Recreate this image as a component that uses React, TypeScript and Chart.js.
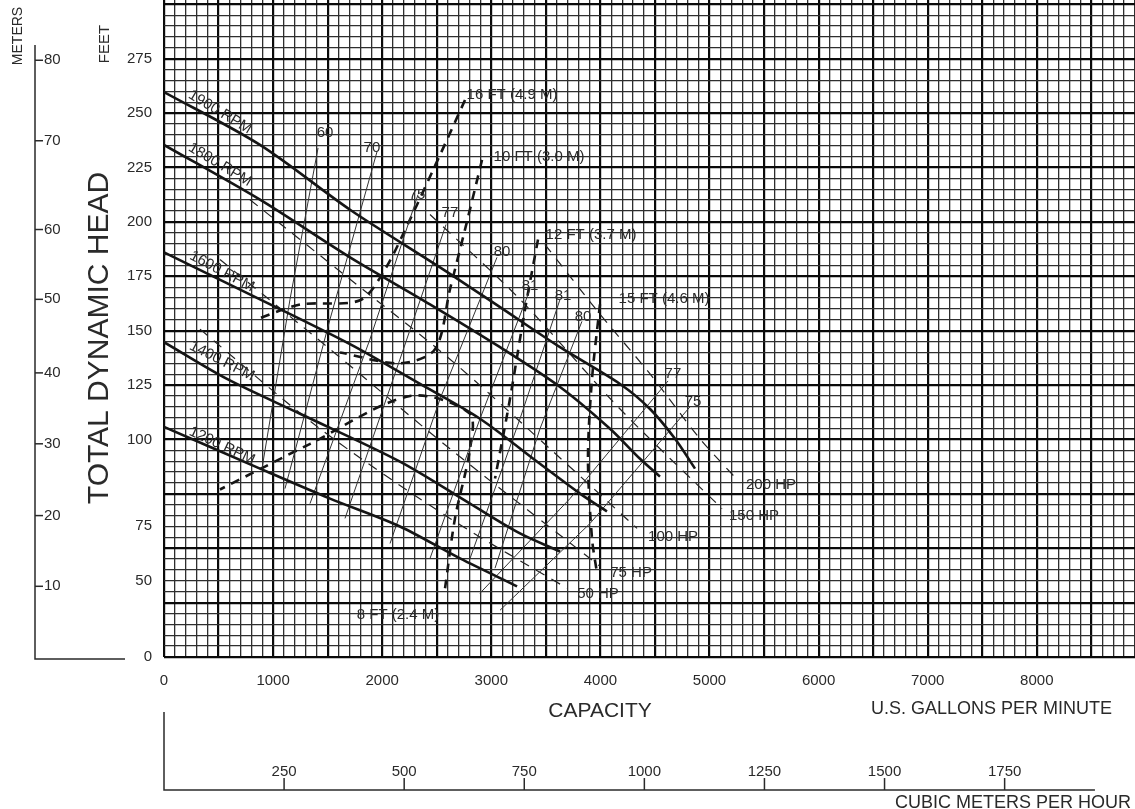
import React, { useEffect, useRef } from "react";
import { Chart, registerables } from "chart.js";
Chart.register(...registerables);

const GPM_MAX = 8900;
const FEET_MAX = 302;
const GPM_PER_M3H = 4.4029;

const GPM_LABELS = [0, 1000, 2000, 3000, 4000, 5000, 6000, 7000, 8000];
const FEET_LABEL_VALUES = [0, 34.8, 60.5, 100, 125, 150, 175, 200, 225, 250, 275];
const FEET_LABEL_TEXT = ["0", "50", "75", "100", "125", "150", "175", "200", "225", "250", "275"];
const METER_LABEL_TEXT = ["10", "20", "30", "40", "50", "60", "70", "80"];
const METER_LABEL_FEET = [32.5, 65.0, 98.0, 130.6, 164.4, 196.5, 237.3, 274.3];
const M3H_LABELS = [250, 500, 750, 1000, 1250, 1500, 1750];

type P = [number, number];

// Head curves (gpm, feet)
const rpm1900: P[] = [[0, 259.7], [880, 235.4], [1705, 205.6], [2530, 179.1], [3080, 160.8], [3630, 142.4], [4180, 125.5], [4455, 114], [4684, 100.3], [4867, 86.6]];
const rpm1800: P[] = [[0, 235.4], [880, 210.2], [1705, 183.7], [2438, 162.1], [3080, 142.4], [3630, 124.1], [4088, 104.9], [4363, 91.1], [4546, 82.9]];
const rpm1600: P[] = [[0, 186], [880, 164.4], [1705, 143.8], [2347, 125.5], [2896, 109.5], [3446, 88.8], [3813, 75.1], [4060, 66.9]];
const rpm1400: P[] = [[0, 144.7], [577, 127.8], [1247, 111.8], [2163, 89.8], [2805, 70.5], [3263, 56.8], [3630, 48.5]];
const rpm1200: P[] = [[0, 105.8], [880, 86.6], [1522, 72.8], [2163, 60], [2713, 45.3], [3236, 32.5]];

// Efficiency lines
const eff60: P[] = [[1412, 234], [1155, 164.4], [898, 86.6]];
const eff70: P[] = [[1952, 232.2], [1522, 155.3], [1109, 77.4]];
const eff75: P[] = [[2328, 212.5], [1888, 146.1], [1338, 70.5]];
const eff77: P[] = [[2585, 198.8], [2163, 136.9], [1659, 63.7]];
const eff80: P[] = [[3052, 183.7], [2530, 118.6], [2072, 52.2]];
const eff81: P[] = [[3355, 169], [2896, 109.5], [2438, 45.3]];
const eff81r: P[] = [[3630, 164.4], [3263, 109.5], [2805, 45.3]];
const eff80r: P[] = [[3831, 154.3], [3446, 104.9], [3034, 40.8]];
const eff77r: P[] = [[4620, 126.9], [3721, 72.8], [2896, 29.3]];
const eff75r: P[] = [[4821, 115], [3905, 61.4], [3080, 21.5]];

// NPSH required curves
const npsh16: P[] = [[2759, 256], [2530, 230.8], [2255, 201.1], [2026, 178.2], [1797, 164], [1247, 162], [834, 155]];
const npsh10: P[] = [[2915, 228.5], [2759, 196.5], [2621, 169], [2484, 141.5], [2163, 135], [1613, 140]];
const npsh12: P[] = [[3428, 191.9], [3309, 159.8], [3171, 118.6], [3034, 82]];
const npsh15: P[] = [[3996, 162.1], [3923, 127.8], [3886, 91.1], [3923, 54.5], [3969, 38.5]];
const npsh8: P[] = [[2576, 31.6], [2667, 63.7], [2805, 95.7], [2800, 112], [2255, 120], [1340, 98], [513, 77]];

// Horsepower lines
const hp200: P[] = [[3492, 189.6], [3996, 157.6], [4455, 130.1], [4913, 100.3], [5261, 81.1]];
const hp150: P[] = [[2438, 203.4], [3263, 164.4], [4180, 114], [5115, 68.2]];
const hp100: P[] = [[788, 210.2], [1705, 173.6], [2621, 136.9], [3538, 95.7], [4336, 59.1]];
const hp75: P[] = [[513, 182.7], [1522, 141.5], [2621, 95.7], [3996, 41.7]];
const hp50: P[] = [[330, 150.7], [1430, 104.9], [2621, 63.7], [3694, 31.6]];

type L = { t: string; gx: number; fy: number; a: number };
const CURVE_LABELS: L[] = [
  { t: "1900 RPM", gx: 513, fy: 250.5, a: 31 },
  { t: "1800 RPM", gx: 513, fy: 226.3, a: 31 },
  { t: "1600 RPM", gx: 532, fy: 177.2, a: 28 },
  { t: "1400 RPM", gx: 532, fy: 136, a: 27 },
  { t: "1200 RPM", gx: 532, fy: 97.1, a: 25 },
  { t: "60", gx: 1476, fy: 240.9, a: 0 },
  { t: "70", gx: 1906, fy: 234, a: 0 },
  { t: "75", gx: 2319, fy: 212.5, a: 0 },
  { t: "77", gx: 2621, fy: 204.3, a: 0 },
  { t: "80", gx: 3098, fy: 186, a: 0 },
  { t: "81", gx: 3355, fy: 170.4, a: 0 },
  { t: "81", gx: 3657, fy: 165.8, a: 0 },
  { t: "80", gx: 3841, fy: 156.2, a: 0 },
  { t: "77", gx: 4665, fy: 130.1, a: 0 },
  { t: "75", gx: 4849, fy: 117.2, a: 0 },
  { t: "16 FT (4.9 M)", gx: 3190, fy: 258.3, a: 0 },
  { t: "10 FT (3.0 M)", gx: 3437, fy: 229.9, a: 0 },
  { t: "12 FT (3.7 M)", gx: 3914, fy: 194.2, a: 0 },
  { t: "15 FT (4.6 M)", gx: 4583, fy: 164.4, a: 0 },
  { t: "8 FT (2.4 M)", gx: 2145, fy: 19.2, a: 0 },
  { t: "200 HP", gx: 5564, fy: 79.2, a: 0 },
  { t: "150 HP", gx: 5408, fy: 65, a: 0 },
  { t: "100 HP", gx: 4666, fy: 55.4, a: 0 },
  { t: "75 HP", gx: 4281, fy: 38.5, a: 0 },
  { t: "50 HP", gx: 3978, fy: 28.9, a: 0 },
];

const FONT = "'Liberation Sans', Arial, sans-serif";
const INK = "#2a2a2a";

const toXY = (pts: P[]) => pts.map(([x, y]) => ({ x, y }));

function ds(pts: P[], kind: "rpm" | "eff" | "npsh" | "hp") {
  const base: any = { data: toXY(pts), pointRadius: 0, fill: false, borderColor: "#151515", tension: 0.3 };
  if (kind === "rpm") return { ...base, borderWidth: 2.6 };
  if (kind === "eff") return { ...base, borderWidth: 1, borderColor: "#333", tension: 0 };
  if (kind === "npsh") return { ...base, borderWidth: 2.6, borderDash: [9, 7] };
  return { ...base, borderWidth: 1.2, borderColor: "#222", borderDash: [10, 8] };
}

const zeroPad = (s: any) => {
  s.paddingTop = 0;
  s.paddingBottom = 0;
  s.paddingLeft = 0;
  s.paddingRight = 0;
};

const decorPlugin = {
  id: "decor",
  afterDraw(chart: any) {
    const { ctx } = chart;
    const x = chart.scales.x;
    const y = chart.scales.y;
    const x2 = chart.scales.x2;
    ctx.save();
    ctx.fillStyle = INK;
    ctx.strokeStyle = INK;
    const text = (s: string, px: number, py: number, size: number, align: CanvasTextAlign = "center", angle = 0) => {
      ctx.save();
      ctx.translate(px, py);
      ctx.rotate((angle * Math.PI) / 180);
      ctx.font = `${size}px ${FONT}`;
      ctx.textAlign = align;
      ctx.textBaseline = "middle";
      ctx.fillText(s, 0, 0);
      ctx.restore();
    };
    for (const l of CURVE_LABELS) {
      text(l.t, x.getPixelForValue(l.gx), y.getPixelForValue(l.fy), 15, "center", l.a);
    }
    text("METERS", 18, 36, 14, "center", -90);
    text("FEET", 105, 44, 15, "center", -90);
    text("TOTAL DYNAMIC HEAD", 100, 338, 30, "center", -90);
    const y0 = y.getPixelForValue(0) + 2;
    ctx.lineWidth = 1.5;
    ctx.beginPath();
    ctx.moveTo(35, 45);
    ctx.lineTo(35, y0);
    ctx.lineTo(125, y0);
    ctx.stroke();
    METER_LABEL_TEXT.forEach((t, i) => {
      const py = y.getPixelForValue(METER_LABEL_FEET[i]);
      ctx.beginPath();
      ctx.moveTo(35, py);
      ctx.lineTo(43, py);
      ctx.stroke();
      text(t, 44, py, 15, "left");
    });
    text("CAPACITY", 600, 711, 21, "center");
    text("U.S. GALLONS PER MINUTE", 1112, 709, 18, "right");
    const bx0 = x2.getPixelForValue(0);
    const bx1 = x2.getPixelForValue(1938);
    ctx.beginPath();
    ctx.moveTo(bx0, 712);
    ctx.lineTo(bx0, 790);
    ctx.lineTo(bx1, 790);
    ctx.stroke();
    for (const v of M3H_LABELS) {
      const px = x2.getPixelForValue(v);
      ctx.beginPath();
      ctx.moveTo(px, 790);
      ctx.lineTo(px, 778);
      ctx.stroke();
    }
    text("CUBIC METERS PER HOUR", 1131, 803, 18, "right");
    ctx.restore();
  },
};

export default function App() {
  const ref = useRef<HTMLCanvasElement>(null);
  useEffect(() => {
    const gridColor = (v: number, major: number) => (v % major === 0 ? "#0a0a0a" : "#2e2e2e");
    const chart = new Chart(ref.current as HTMLCanvasElement, {
      type: "line",
      data: {
        datasets: [
          ds(rpm1900, "rpm"), ds(rpm1800, "rpm"), ds(rpm1600, "rpm"), ds(rpm1400, "rpm"), ds(rpm1200, "rpm"),
          ds(eff60, "eff"), ds(eff70, "eff"), ds(eff75, "eff"), ds(eff77, "eff"), ds(eff80, "eff"), ds(eff81, "eff"),
          ds(eff81r, "eff"), ds(eff80r, "eff"), ds(eff77r, "eff"), ds(eff75r, "eff"),
          ds(npsh16, "npsh"), ds(npsh10, "npsh"), ds(npsh12, "npsh"), ds(npsh15, "npsh"), ds(npsh8, "npsh"),
          ds(hp200, "hp"), ds(hp150, "hp"), ds(hp100, "hp"), ds(hp75, "hp"), ds(hp50, "hp"),
        ] as any,
      },
      options: {
        animation: false,
        responsive: true,
        maintainAspectRatio: false,
        layout: { padding: 0 },
        plugins: { legend: { display: false }, tooltip: { enabled: false } },
        scales: {
          x: {
            type: "linear",
            position: "bottom",
            weight: 0,
            min: 0,
            max: GPM_MAX,
            afterBuildTicks: (s: any) => {
              const t = [];
              for (let v = 0; v <= GPM_MAX; v += 100) t.push({ value: v });
              s.ticks = t;
            },
            afterFit: (s: any) => { s.height = 55; zeroPad(s); },
            grid: {
              drawTicks: false,
              color: (c: any) => gridColor(c.tick ? c.tick.value : 0, 500),
              lineWidth: (c: any) => (c.tick && c.tick.value % 500 === 0 ? 2.2 : 1.3),
            },
            border: { display: false },
            ticks: {
              autoSkip: false,
              maxRotation: 0,
              padding: 15,
              color: INK,
              font: { family: FONT, size: 15 },
              callback: (v: any) => (GPM_LABELS.includes(Number(v)) ? String(v) : ""),
            },
          },
          x2: {
            type: "linear",
            position: "bottom",
            weight: 1,
            min: 0,
            max: GPM_MAX / GPM_PER_M3H,
            afterBuildTicks: (s: any) => { s.ticks = M3H_LABELS.map((v) => ({ value: v })); },
            afterFit: (s: any) => { s.height = 97; zeroPad(s); },
            grid: { display: false, drawTicks: false },
            border: { display: false },
            ticks: {
              autoSkip: false,
              maxRotation: 0,
              padding: 51,
              color: INK,
              font: { family: FONT, size: 15 },
              callback: (v: any) => String(v),
            },
          },
          y: {
            type: "linear",
            position: "left",
            min: 0,
            max: FEET_MAX,
            afterBuildTicks: (s: any) => {
              const vals: number[] = [];
              for (let v = 0; v <= 300; v += 5) vals.push(v);
              FEET_LABEL_VALUES.forEach((v) => { if (!vals.includes(v)) vals.push(v); });
              vals.sort((a, b) => a - b);
              s.ticks = vals.map((v) => ({ value: v }));
            },
            afterFit: (s: any) => { s.width = 164; zeroPad(s); },
            grid: {
              drawTicks: false,
              color: (c: any) => {
                const v = c.tick ? c.tick.value : 0;
                if (v % 5 !== 0) return "rgba(0,0,0,0)";
                return gridColor(v, 25);
              },
              lineWidth: (c: any) => (c.tick && c.tick.value % 25 === 0 ? 2.2 : 1.3),
            },
            border: { display: false },
            ticks: {
              autoSkip: false,
              padding: 12,
              color: INK,
              font: { family: FONT, size: 15 },
              callback: (v: any) => {
                const i = FEET_LABEL_VALUES.indexOf(Number(v));
                return i >= 0 ? FEET_LABEL_TEXT[i] : "";
              },
            },
          },
        },
      },
      plugins: [decorPlugin],
    } as any);
    return () => chart.destroy();
  }, []);
  return (
    <div style={{ position: "absolute", left: 0, top: 0, width: 1135, height: 809, background: "#fff" }}>
      <canvas ref={ref} />
    </div>
  );
}
